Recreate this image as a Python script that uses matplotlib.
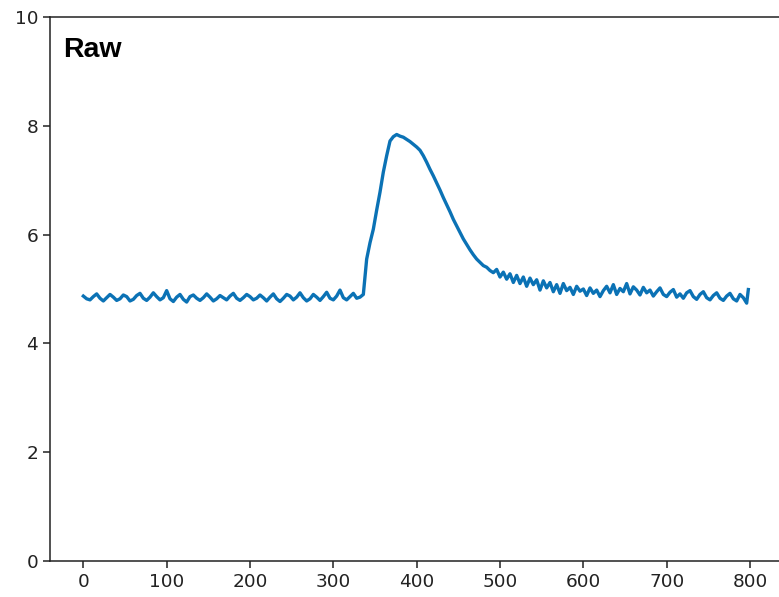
import numpy as np
import matplotlib.pyplot as plt

t = list(range(0, 800, 4)) + [798]
raw = [
    4.87, 4.82, 4.80, 4.86, 4.91, 4.83, 4.78, 4.84, 4.90, 4.85,
    4.79, 4.82, 4.89, 4.86, 4.78, 4.81, 4.88, 4.92, 4.83, 4.79,
    4.85, 4.93, 4.86, 4.80, 4.84, 4.97, 4.82, 4.77, 4.85, 4.90,
    4.81, 4.76, 4.86, 4.89, 4.83, 4.79, 4.84, 4.91, 4.85, 4.78,
    4.82, 4.88, 4.84, 4.80, 4.87, 4.92, 4.83, 4.79, 4.84, 4.90,
    4.86, 4.80, 4.83, 4.89, 4.84, 4.78, 4.85, 4.91, 4.82, 4.77,
    4.83, 4.90, 4.87, 4.80, 4.85, 4.93, 4.84, 4.78, 4.82, 4.90,
    4.85, 4.79, 4.86, 4.94, 4.83, 4.80, 4.87, 4.98, 4.84, 4.80,
    4.86, 4.92, 4.83, 4.85, 4.90, 5.55, 5.85, 6.10, 6.45, 6.78,
    7.15, 7.45, 7.72, 7.80, 7.84, 7.81, 7.79, 7.75, 7.71, 7.66,
    7.61, 7.55, 7.45, 7.33, 7.20, 7.08, 6.95, 6.82, 6.68, 6.55,
    6.42, 6.28, 6.16, 6.04, 5.92, 5.82, 5.72, 5.63, 5.55, 5.49,
    5.43, 5.40, 5.34, 5.30, 5.36, 5.22, 5.31, 5.18, 5.28, 5.12,
    5.25, 5.10, 5.22, 5.05, 5.20, 5.08, 5.17, 4.98, 5.15, 5.02,
    5.12, 4.95, 5.08, 4.92, 5.10, 4.97, 5.03, 4.90, 5.05, 4.96,
    5.00, 4.88, 5.02, 4.92, 4.98, 4.86, 4.97, 5.05, 4.93, 5.08,
    4.90, 5.01, 4.95, 5.10, 4.91, 5.04, 4.98, 4.89, 5.03, 4.93,
    4.98, 4.87, 4.95, 5.02, 4.90, 4.86, 4.94, 4.99, 4.85, 4.91,
    4.83, 4.93, 4.97, 4.86, 4.81, 4.90, 4.95, 4.84, 4.80, 4.88,
    4.93, 4.83, 4.79, 4.87, 4.92, 4.82, 4.78, 4.90, 4.84, 4.74,
    4.99,
]

fig = plt.figure(figsize=(7.79, 5.97), dpi=100)
ax = fig.add_axes([50 / 779, 36 / 597, 732.5 / 779, 544 / 597])
ax.plot(t, raw, color='#0b72b5', linewidth=2.4)

ax.set_ylim(0, 10)
ax.set_xlim(-40, 839)
ax.set_xticks(range(0, 801, 100))
ax.set_yticks(range(0, 11, 2))
for s in ax.spines.values():
    s.set_linewidth(1.1)
    s.set_color('#222222')
ax.tick_params(labelsize=13.3, length=5, width=1.1, colors='#222222')

fig.text(63 / 779, 1 - 57 / 597, 'Raw', fontsize=20.5, fontweight='bold',
         family='Liberation Sans', va='baseline', ha='left')

plt.savefig('out.png', dpi=100)
